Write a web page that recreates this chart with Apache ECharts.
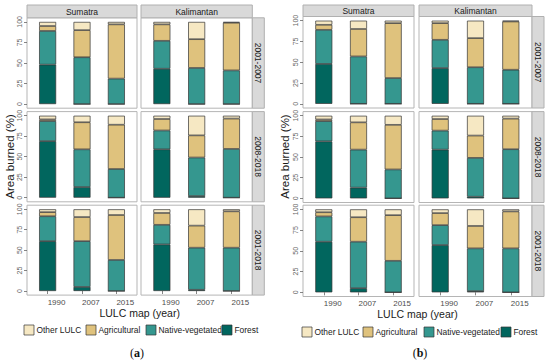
<!DOCTYPE html>
<html><head><meta charset="utf-8">
<script src="https://cdn.jsdelivr.net/npm/echarts@6/dist/echarts.min.js"></script>
<style>html,body{margin:0;padding:0;background:#fff}#c{width:550px;height:362px}</style>
</head><body><div id="c"></div>
<script>
const years = ['1990', '2007', '2015'];
const regions = ['Sumatra', 'Kalimantan'];
const periods = ['2001-2007', '2008-2018', '2001-2018'];
const classes = ['Forest', 'Native-vegetated', 'Agricultural', 'Other LULC'];
const legendOrder = ['Other LULC', 'Agricultural', 'Native-vegetated', 'Forest'];
const yTicks = [0, 25, 50, 75, 100];
// [period][region][year] area burned (%)
const forest = [[[48, 0, 0], [43, 0, 0]], [[69, 13, 0], [59, 2, 0]], [[61, 5, 0], [57, 1.5, 0]]];
const nativeVeg = [[[41, 57, 31], [34, 44, 41]], [[24.5, 46, 35], [23, 47, 59.5]], [[30.5, 56, 38], [24, 51.5, 53]]];
const agricultural = [[[6, 33, 66], [20, 35, 58]], [[2, 33, 54], [14, 27, 37]], [[5, 29.5, 55], [14.5, 27, 44.5]]];
const otherLULC = [[[5, 10, 3], [3, 21, 1]], [[4.5, 8, 11], [4, 24, 3.5]], [[3.5, 9.5, 7], [4.5, 20, 2.5]]];
const panelTags = ['a', 'b'];

const valuesByClass = { 'Forest': forest, 'Native-vegetated': nativeVeg, 'Agricultural': agricultural, 'Other LULC': otherLULC };
const colors = { 'Forest': '#01665e', 'Native-vegetated': '#35978f', 'Agricultural': '#dfc27d', 'Other LULC': '#f6e8c3' };
const FONT = 'Liberation Sans, Arial, sans-serif';

const layout = [
  { cols: [{ l: 27, w: 110 }, { l: 141, w: 111.3 }], rows: [{ t: 17.8, h: 90.4 }, { t: 111.6, h: 90.2 }, { t: 205.2, h: 89.9 }],
    stripTop: 5, rowStripX: 252.3, yTitleX: 10, titleY: 313, legendX: [24, 86, 146, 222], legendY: 330, tagX: 137 },
  { cols: [{ l: 303, w: 111 }, { l: 419, w: 113 }], rows: [{ t: 16.5, h: 91.5 }, { t: 111.6, h: 90.9 }, { t: 205.2, h: 91.3 }],
    stripTop: 5, rowStripX: 532, yTitleX: 285, titleY: 314, legendX: [302, 363, 424, 501], legendY: 332, tagX: 420 }
];

const grid = [], xAxis = [], yAxis = [], series = [], graphic = [];
layout.forEach((L, p) => {
  L.rows.forEach((R, r) => {
    L.cols.forEach((C, c) => {
      const idx = grid.length;
      grid.push({ left: C.l, top: R.t, width: C.w, height: R.h, show: true, backgroundColor: '#fff', borderColor: '#b5b5b5', borderWidth: 1, containLabel: false });
      const bottom = r === L.rows.length - 1;
      xAxis.push({
        type: 'value', gridIndex: idx, min: 0.4, max: 3.6,
        axisLine: { show: false }, splitLine: { show: false },
        axisTick: { show: bottom, customValues: [1, 2, 3], length: 3, lineStyle: { color: '#666', width: 0.8 } },
        axisLabel: { show: bottom, customValues: [1, 2, 3], formatter: v => years[Math.round(v) - 1], fontSize: 8, color: '#4d4d4d', fontFamily: FONT, align: 'left', margin: 3 }
      });
      yAxis.push({
        type: 'value', gridIndex: idx, min: -5, max: 105,
        axisLine: { show: false }, splitLine: { show: false },
        axisTick: { show: c === 0, customValues: yTicks, length: 3, lineStyle: { color: '#666', width: 0.8 } },
        axisLabel: { show: c === 0, customValues: yTicks, rotate: 90, align: 'center', verticalAlign: 'bottom', fontSize: 7, color: '#666', fontFamily: FONT, margin: 4 }
      });
      classes.forEach(cls => {
        series.push({
          type: 'bar', name: cls, xAxisIndex: idx, yAxisIndex: idx, stack: 's' + idx, barWidth: 17,
          // value first so that it is the stacked dimension
          data: years.map((y, i) => [valuesByClass[cls][r][c][i], i + 1]),
          encode: { x: 1, y: 0 },
          itemStyle: { color: colors[cls], borderColor: '#333', borderWidth: 0.7 },
          silent: true, animation: false
        });
      });
      if (r === 0) {
        graphic.push({ type: 'rect', shape: { x: C.l, y: L.stripTop, width: C.w, height: R.t - L.stripTop }, style: { fill: '#d9d9d9', stroke: '#b0b0b0', lineWidth: 1 } });
        graphic.push({ type: 'text', x: C.l + C.w / 2, y: (L.stripTop + R.t) / 2 + 0.5, style: { text: regions[c], fill: '#1a1a1a', font: '8.5px ' + FONT, align: 'center', verticalAlign: 'middle' } });
      }
    });
    graphic.push({ type: 'rect', shape: { x: L.rowStripX, y: R.t, width: 12, height: R.h }, style: { fill: '#d9d9d9', stroke: '#b0b0b0', lineWidth: 1 } });
    graphic.push({ type: 'text', x: L.rowStripX + 6, y: R.t + R.h / 2, rotation: -Math.PI / 2, style: { text: periods[r], fill: '#1a1a1a', font: '8.5px ' + FONT, align: 'center', verticalAlign: 'middle' } });
  });
  const cx = (L.cols[0].l + L.cols[1].l + L.cols[1].w) / 2;
  graphic.push({ type: 'text', x: cx, y: L.titleY, style: { text: 'LULC map (year)', fill: '#1a1a1a', font: '10.5px ' + FONT, align: 'center', verticalAlign: 'middle' } });
  const cy = (L.rows[0].t + L.rows[2].t + L.rows[2].h) / 2;
  graphic.push({ type: 'text', x: L.yTitleX, y: cy, rotation: Math.PI / 2, style: { text: 'Area burned (%)', fill: '#1a1a1a', font: '11.5px ' + FONT, align: 'center', verticalAlign: 'middle' } });
  graphic.push({ type: 'text', x: L.tagX, y: 353, style: { text: '(' + '{b|' + panelTags[p] + '})', fill: '#111', font: '12px Liberation Serif, serif', align: 'center', verticalAlign: 'middle', rich: { b: { fontWeight: 'bold', fontSize: 12, fontFamily: 'Liberation Serif, serif', fill: '#111' } } } });
  // legend keys
  legendOrder.forEach((name, k) => {
    const x0 = L.legendX[k];
    graphic.push({ type: 'rect', shape: { x: x0, y: L.legendY - 5, width: 10, height: 10 }, style: { fill: colors[name], stroke: '#333', lineWidth: 0.7 } });
    graphic.push({ type: 'text', x: x0 + 12.5, y: L.legendY, style: { text: name, fill: '#1a1a1a', font: '8.4px ' + FONT, align: 'left', verticalAlign: 'middle' } });
  });
});

const chart = echarts.init(document.getElementById('c'), null, { renderer: 'svg' });
chart.setOption({ animation: false, backgroundColor: '#fff', grid, xAxis, yAxis, series, graphic });
</script>
</body></html>
